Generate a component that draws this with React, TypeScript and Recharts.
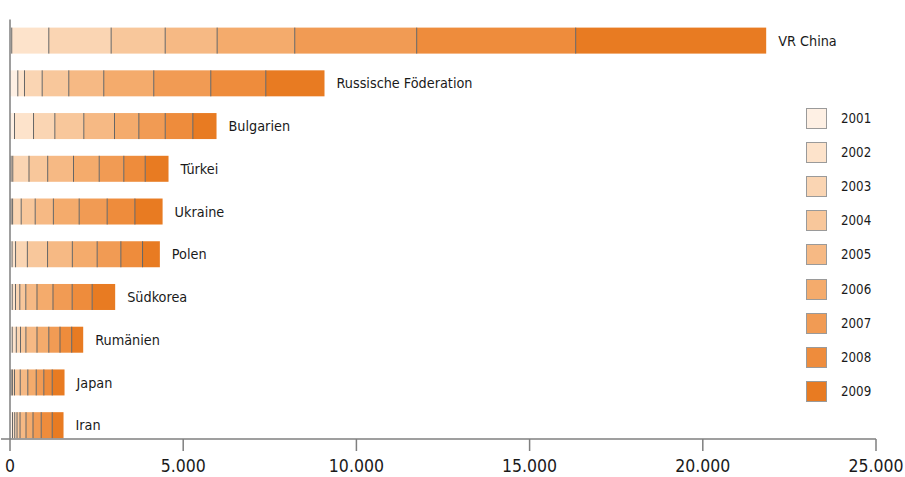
import React from "react";
import { BarChart, Bar, XAxis, YAxis, LabelList, ReferenceLine } from "recharts";

// Countries, top to bottom
const countries = [
  "VR China",
  "Russische Föderation",
  "Bulgarien",
  "Türkei",
  "Ukraine",
  "Polen",
  "Südkorea",
  "Rumänien",
  "Japan",
  "Iran",
];

const years = ["2001", "2002", "2003", "2004", "2005", "2006", "2007", "2008", "2009"];

// values per year, same order as countries
const v2001 = [50, 225, 130, 30, 30, 60, 64, 64, 30, 72];
const v2002 = [1070, 193, 549, 50, 45, 100, 95, 118, 40, 64];
const v2003 = [1800, 511, 615, 468, 248, 341, 124, 121, 60, 66];
const v2004 = [1560, 768, 837, 540, 404, 583, 173, 156, 165, 87];
const v2005 = [1500, 1010, 886, 745, 525, 716, 323, 320, 219, 173];
const v2006 = [2240, 1443, 702, 742, 745, 716, 462, 341, 243, 202];
const v2007 = [3520, 1646, 762, 710, 808, 684, 554, 323, 219, 237];
const v2008 = [4590, 1588, 797, 618, 800, 626, 577, 338, 243, 318];
const v2009 = [5500, 1695, 684, 673, 800, 500, 664, 332, 355, 326];

const xTicks = [0, 5000, 10000, 15000, 20000, 25000];

const colors = [
  "#fef0e4",
  "#fde3cb",
  "#fad5b3",
  "#f8c79b",
  "#f6b984",
  "#f4ab6c",
  "#f19b54",
  "#ee8c3c",
  "#e87b22",
];

const series = [v2001, v2002, v2003, v2004, v2005, v2006, v2007, v2008, v2009];

const data = countries.map((name, i) => {
  const row: Record<string, any> = { name };
  years.forEach((y, k) => {
    row[y] = series[k][i];
  });
  return row;
});

const FONT = "'DejaVu Sans Condensed', 'Liberation Sans Narrow', Arial, sans-serif";

// segment with a thin divider on its left edge
const Segment = (withDivider: boolean) => (props: any) => {
  const { x, y, width, height, fill } = props;
  if (!width || width <= 0) return null;
  return (
    <g>
      <rect x={x} y={y} width={width} height={height} fill={fill} />
      {withDivider && (
        <line x1={x} x2={x} y1={y} y2={y + height} stroke="#666" strokeWidth={1} />
      )}
    </g>
  );
};

const fmt = (v: number) => v.toLocaleString("de-DE");

export default function App() {
  return (
    <div
      style={{
        position: "absolute",
        left: 0,
        top: 0,
        width: 905,
        height: 477,
        background: "#fff",
        fontFamily: FONT,
      }}
    >
      <BarChart
        width={905}
        height={477}
        data={data}
        layout="vertical"
        margin={{ top: 19.6, right: 29, left: 1, bottom: 8 }}
      >
        <XAxis
          type="number"
          domain={[-260, 25000]}
          ticks={xTicks}
          tickFormatter={fmt}
          axisLine={{ stroke: "#7f7f7f", strokeWidth: 1.5 }}
          tickLine={{ stroke: "#7f7f7f", strokeWidth: 1.5 }}
          tickSize={12}
          tickMargin={9}
          height={30}
          tick={{ fill: "#1a1a1a", fontSize: 17.5 }}
        />
        <YAxis
          type="category"
          dataKey="name"
          hide
          padding={{ top: 0, bottom: -7.9 }}
        />
        <ReferenceLine x={0} stroke="#7f7f7f" strokeWidth={1.5} />
        {years.map((y, k) => (
          <Bar
            key={y}
            dataKey={y}
            stackId="a"
            fill={colors[k]}
            barSize={26}
            shape={Segment(k > 0)}
            isAnimationActive={false}
          >
            {k === years.length - 1 && (
              <LabelList dataKey="name" position="right" offset={12} fill="#1a1a1a" fontSize={14.3} />
            )}
          </Bar>
        ))}
      </BarChart>

      {/* year legend */}
      <div style={{ position: "absolute", left: 806, top: 108 }}>
        {years.map((y, k) => (
          <div
            key={y}
            style={{ position: "absolute", left: 0, top: k * 34.1, display: "flex", alignItems: "center" }}
          >
            <div
              style={{
                width: 21,
                height: 21,
                boxSizing: "border-box",
                background: colors[k],
                border: "1px solid #9a9a9a",
              }}
            />
            <span style={{ marginLeft: 14, fontSize: 13.2, color: "#1a1a1a", lineHeight: "21px" }}>{y}</span>
          </div>
        ))}
      </div>
    </div>
  );
}
